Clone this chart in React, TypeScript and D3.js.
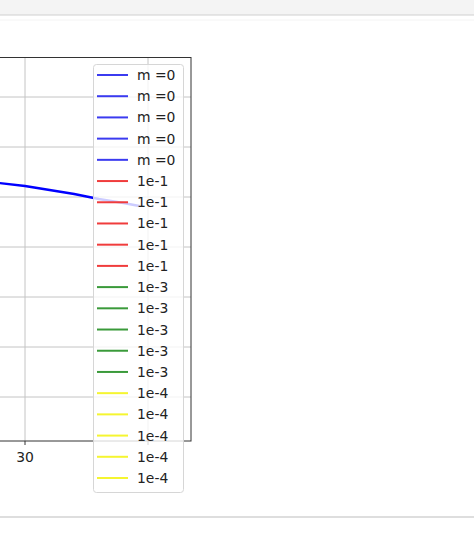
import React, { useEffect, useRef } from 'react';
import * as d3 from 'd3';

// visible part of the only drawn curve (x, y)
const lineX = [27.9, 30, 32, 34, 36, 38, 39.3];
const lineY = [2.14, 2.11, 2.07, 2.03, 1.98, 1.94, 1.91];

const xGrid = [30, 40];
const xTickLabels = [30];
const yTicks = [0, 0.5, 1, 1.5, 2, 2.5, 3];

const legendLabels = [
  'm =0', 'm =0', 'm =0', 'm =0', 'm =0',
  '1e-1', '1e-1', '1e-1', '1e-1', '1e-1',
  '1e-3', '1e-3', '1e-3', '1e-3', '1e-3',
  '1e-4', '1e-4', '1e-4', '1e-4', '1e-4',
];
const legendColors = [
  ...Array(5).fill('#3b3bf0'),
  ...Array(5).fill('#f03c3c'),
  ...Array(5).fill('#3a9a3a'),
  ...Array(5).fill('#f5f530'),
];

const W = 474;
const H = 534;

const App = () => {
  const svgRef = useRef<SVGSVGElement | null>(null);

  useEffect(() => {
    document.body.style.margin = '0';
    if (!svgRef.current) return;
    const svg = d3.select(svgRef.current);
    svg.selectAll('*').remove();

    // page chrome
    svg.append('rect').attr('x', 0).attr('y', 0).attr('width', W).attr('height', 15).attr('fill', '#f4f4f4');
    svg.append('line').attr('x1', 0).attr('x2', W).attr('y1', 15).attr('y2', 15).attr('stroke', '#cfcfcf').attr('stroke-width', 1.2);
    svg.append('line').attr('x1', 0).attr('x2', W).attr('y1', 20).attr('y2', 20).attr('stroke', '#f4f4f4');
    svg.append('line').attr('x1', 0).attr('x2', W).attr('y1', 517).attr('y2', 517).attr('stroke', '#bdbdbd').attr('stroke-width', 1.2);

    // axes cropped on the left: 30 -> 25px, 40 -> 148px
    const xScale = d3.scaleLinear().domain([30, 40]).range([25, 148]);
    const yScale = d3.scaleLinear().domain([0, 3]).range([397, 97]);
    const frame = { left: -40, right: 191, top: 57.5, bottom: 441 };

    const g = svg.append('g');

    // grid
    g.selectAll('.gx').data(xGrid).enter().append('line')
      .attr('x1', d => xScale(d)).attr('x2', d => xScale(d))
      .attr('y1', frame.top).attr('y2', frame.bottom)
      .attr('stroke', '#c4c4c4').attr('stroke-width', 1);
    g.selectAll('.gy').data(yTicks).enter().append('line')
      .attr('x1', frame.left).attr('x2', frame.right)
      .attr('y1', d => yScale(d)).attr('y2', d => yScale(d))
      .attr('stroke', '#c4c4c4').attr('stroke-width', 1);

    // curve
    const line = d3.line<number>().x((d, i) => xScale(lineX[i])).y(d => yScale(d));
    g.append('path').datum(lineY).attr('d', line).attr('fill', 'none')
      .attr('stroke', '#0000ff').attr('stroke-width', 2.4);

    // frame
    g.append('rect')
      .attr('x', frame.left).attr('y', frame.top)
      .attr('width', frame.right - frame.left).attr('height', frame.bottom - frame.top)
      .attr('fill', 'none').attr('stroke', '#333').attr('stroke-width', 1);

    // x ticks
    g.selectAll('.xtm').data(xGrid).enter().append('line')
      .attr('x1', d => xScale(d)).attr('x2', d => xScale(d))
      .attr('y1', frame.bottom).attr('y2', frame.bottom + 4).attr('stroke', '#333');
    g.selectAll('.xtl').data(xTickLabels).enter().append('text')
      .attr('x', d => xScale(d)).attr('y', frame.bottom + 21).attr('text-anchor', 'middle')
      .attr('font-family', 'DejaVu Sans').attr('font-size', 13.9).attr('fill', '#222')
      .text(d => String(d));

    // legend
    const lg = svg.append('g');
    lg.append('rect').attr('x', 93.5).attr('y', 64.5).attr('width', 90).attr('height', 428)
      .attr('rx', 3).attr('fill', 'white').attr('fill-opacity', 0.8)
      .attr('stroke', '#d6d6d6').attr('stroke-width', 1);
    const row = d3.scaleLinear().domain([0, legendLabels.length - 1]).range([75, 478]);
    const items = lg.selectAll('.li').data(legendLabels).enter().append('g')
      .attr('transform', (d, i) => `translate(0,${row(i)})`);
    items.append('line').attr('x1', 97).attr('x2', 128).attr('y1', 0).attr('y2', 0)
      .attr('stroke', (d, i) => legendColors[i]).attr('stroke-width', 2);
    items.append('text').attr('x', 137).attr('y', 5)
      .attr('font-family', 'DejaVu Sans').attr('font-size', 13.9).attr('fill', '#222')
      .text(d => d);
  }, []);

  return <svg ref={svgRef} width={W} height={H} style={{ display: 'block' }} />;
};

export default App;
